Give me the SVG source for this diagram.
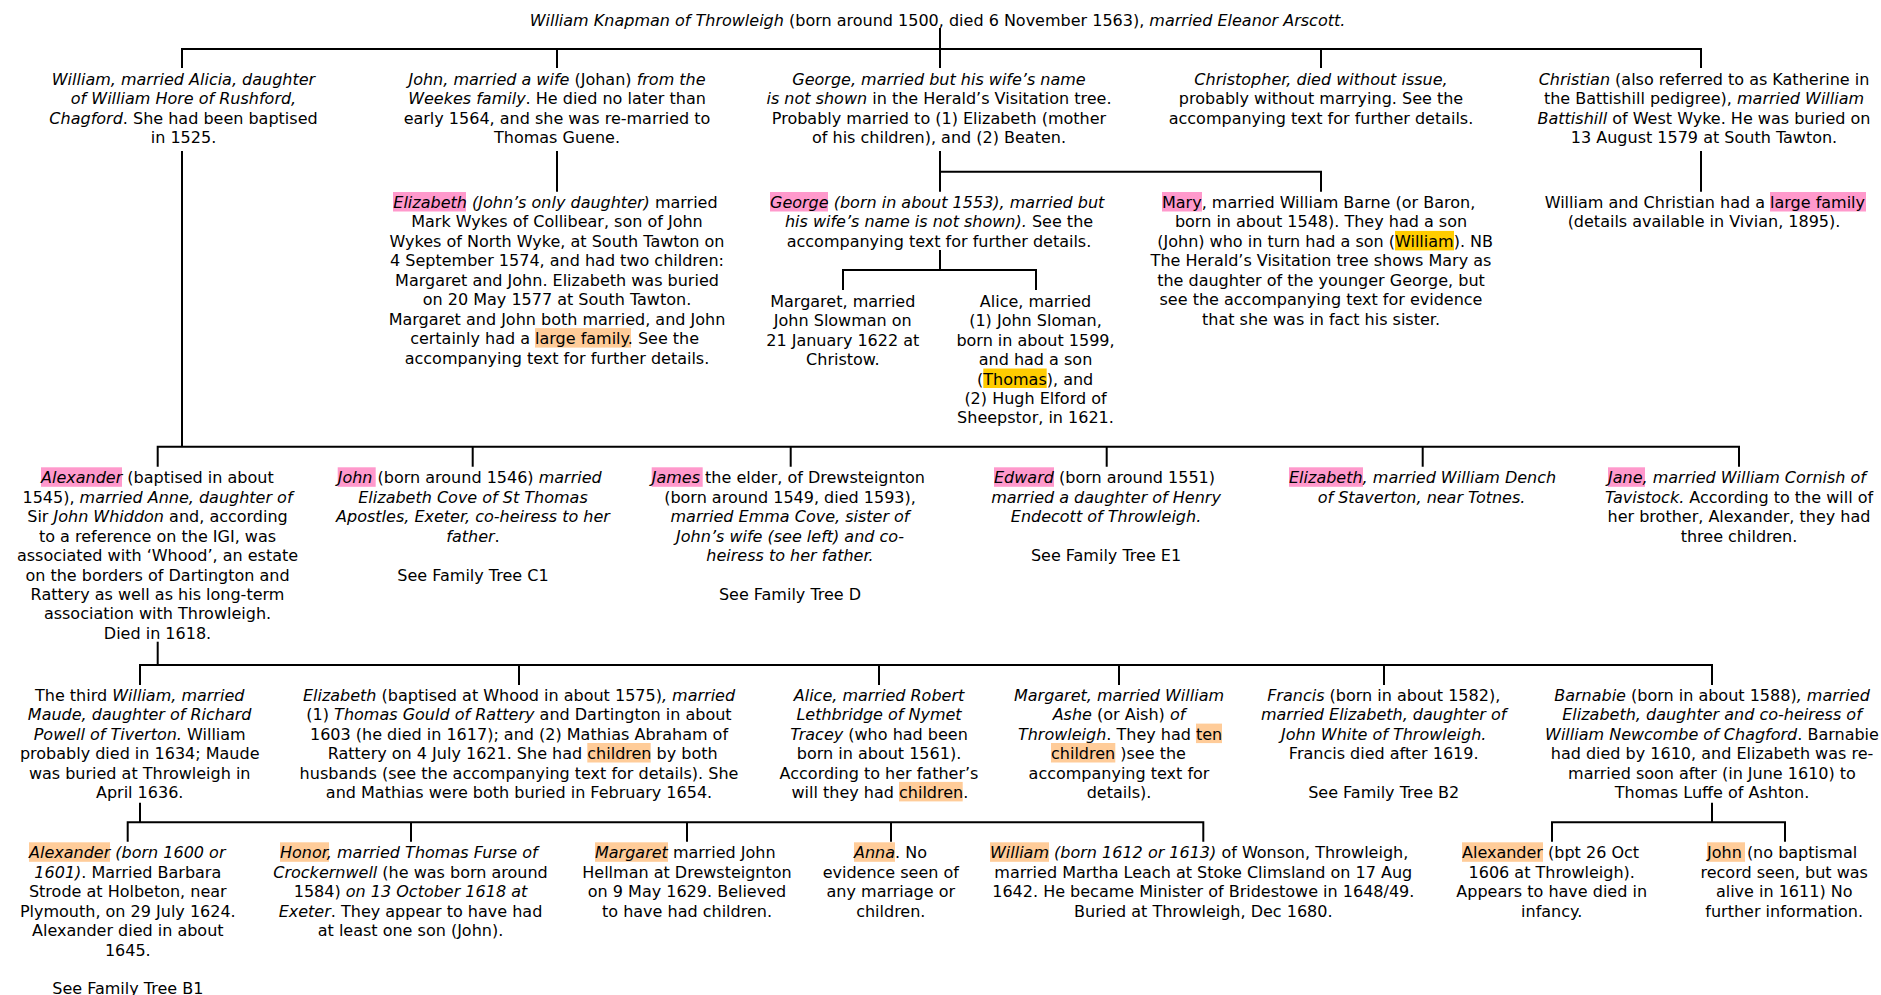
<svg xmlns="http://www.w3.org/2000/svg" width="1881" height="995" viewBox="0 0 1881 995">
<style>
text{font-family:"DejaVu Sans",Verdana,sans-serif;font-size:16px;fill:#000}
.m{text-anchor:middle}
.e{text-anchor:end}
.i{font-style:italic}
.pk{fill:#ff99cc}
.or{fill:#ffcc99}
.ye{fill:#ffcc00}
#connectors path{stroke:#000;stroke-width:2;fill:none}
</style>
<rect width="1881" height="995" fill="#fff"/>
<g id="connectors">
<path d="M940 28V49"/>
<path d="M182 68V49H1701V68"/>
<path d="M557 49V68M940 49V68M1321 49V68"/>
<path d="M182 151V446.7"/>
<path d="M557 151V191.7M1701 151V191.7M940 151V191.7M940 171.7H1321V191.7"/>
<path d="M940 250V270M843 290V270H1036V290"/>
<path d="M157.7 466.7V446.7H1739V466.7M472.7 446.7V466.7M790.7 446.7V466.7M1106.7 446.7V466.7M1422.7 446.7V466.7"/>
<path d="M157.7 641.7V665"/>
<path d="M140 685V665H1712V685M519 665V685M879 665V685M1119 665V685M1384 665V685"/>
<path d="M140 802.7V822.3M127.7 841.7V822.3H1203.3V841.7M411 822.3V841.7M687 822.3V841.7M891 822.3V841.7"/>
<path d="M1712 802.7V822.3M1552 841.7V822.3H1785V841.7"/>
</g>
<g id="n-root">
<text class="m" x="937.5" y="26"><tspan class="i">William Knapman of Throwleigh</tspan> (born around 1500, died 6 November 1563), <tspan class="i">married Eleanor Arscott.</tspan></text>
</g>
<g id="n-william1">
<text class="m" x="183.5" y="85"><tspan class="i">William, married Alicia, daughter</tspan></text>
<text class="m i" x="183.5" y="104.4">of William Hore of Rushford,</text>
<text class="m" x="183.5" y="123.9"><tspan class="i">Chagford</tspan>. She had been baptised</text>
<text class="m" x="183.5" y="143.3">in 1525.</text>
</g>
<g id="n-john1">
<text class="m" x="557" y="85"><tspan class="i">John, married a wife</tspan> (Johan) <tspan class="i">from the</tspan></text>
<text class="m" x="557" y="104.4"><tspan class="i">Weekes family</tspan>. He died no later than</text>
<text class="m" x="557" y="123.9">early 1564, and she was re-married to</text>
<text class="m" x="557" y="143.3">Thomas Guene.</text>
</g>
<g id="n-george1">
<text class="m i" x="939" y="85">George, married but his wife’s name</text>
<text class="m" x="939" y="104.4"><tspan class="i">is not shown</tspan> in the Herald’s Visitation tree.</text>
<text class="m" x="939" y="123.9">Probably married to (1) Elizabeth (mother</text>
<text class="m" x="939" y="143.3">of his children), and (2) Beaten.</text>
</g>
<g id="n-christopher">
<text class="m i" x="1321" y="85">Christopher, died without issue,</text>
<text class="m" x="1321" y="104.4">probably without marrying. See the</text>
<text class="m" x="1321" y="123.9">accompanying text for further details.</text>
</g>
<g id="n-christian">
<text class="m" x="1704" y="85"><tspan class="i">Christian</tspan> (also referred to as Katherine in</text>
<text class="m" x="1704" y="104.4">the Battishill pedigree), <tspan class="i">married William</tspan></text>
<text class="m" x="1704" y="123.9"><tspan class="i">Battishill</tspan> of West Wyke. He was buried on</text>
<text class="m" x="1704" y="143.3">13 August 1579 at South Tawton.</text>
</g>
<g id="n-elizabeth2">
<rect class="pk" x="393" y="192" width="73" height="19.5"/>
<text x="393.3" y="208"><tspan class="i">Elizabeth (John’s only daughter)</tspan> married</text>
<text class="m" x="557" y="227.4">Mark Wykes of Collibear, son of John</text>
<text class="m" x="557" y="246.9">Wykes of North Wyke, at South Tawton on</text>
<text class="m" x="557" y="266.3">4 September 1574, and had two children:</text>
<text class="m" x="557" y="285.8">Margaret and John. Elizabeth was buried</text>
<text class="m" x="557" y="305.2">on 20 May 1577 at South Tawton.</text>
<text class="m" x="557" y="324.6">Margaret and John both married, and John</text>
<rect class="or" x="535" y="328.1" width="96" height="19.5"/>
<text class="e" x="530" y="344.1">certainly had a</text>
<text x="535" y="344.1">large family. See the</text>
<text class="m" x="557" y="363.5">accompanying text for further details.</text>
</g>
<g id="n-george2">
<rect class="pk" x="770" y="192" width="58" height="19.5"/>
<text class="i" x="770" y="208">George (born in about 1553), married but</text>
<text class="m" x="939" y="227.4"><tspan class="i">his wife’s name is not shown).</tspan> See the</text>
<text class="m" x="939" y="246.9">accompanying text for further details.</text>
</g>
<g id="n-mary">
<rect class="pk" x="1162" y="192" width="40" height="19.5"/>
<text x="1162" y="208">Mary, married William Barne (or Baron,</text>
<text class="m" x="1321" y="227.4">born in about 1548). They had a son</text>
<text class="e" x="1395" y="246.9">(John) who in turn had a son (</text>
<rect class="ye" x="1395" y="230.9" width="59" height="19.5"/>
<text x="1395" y="246.9">William). NB</text>
<text class="m" x="1321" y="266.3">The Herald’s Visitation tree shows Mary as</text>
<text class="m" x="1321" y="285.8">the daughter of the younger George, but</text>
<text class="m" x="1321" y="305.2">see the accompanying text for evidence</text>
<text class="m" x="1321" y="324.6">that she was in fact his sister.</text>
</g>
<g id="n-battishill">
<rect class="pk" x="1770" y="192" width="96" height="19.5"/>
<text class="e" x="1765" y="208">William and Christian had a</text>
<text x="1770" y="208">large family</text>
<text class="m" x="1704" y="227.4">(details available in Vivian, 1895).</text>
</g>
<g id="n-margaret3">
<text class="m" x="842.8" y="306.7">Margaret, married</text>
<text class="m" x="842.8" y="326.1">John Slowman on</text>
<text class="m" x="842.8" y="345.6">21 January 1622 at</text>
<text class="m" x="842.8" y="365">Christow.</text>
</g>
<g id="n-alice3">
<text class="m" x="1035.5" y="306.7">Alice, married</text>
<text class="m" x="1035.5" y="326.1">(1) John Sloman,</text>
<text class="m" x="1035.5" y="345.6">born in about 1599,</text>
<text class="m" x="1035.5" y="365">and had a son</text>
<rect class="ye" x="983.3" y="368.5" width="63.4" height="19.5"/>
<text class="e" x="983.3" y="384.5">(</text>
<text x="983.3" y="384.5">Thomas), and</text>
<text class="m" x="1035.5" y="403.9">(2) Hugh Elford of</text>
<text class="m" x="1035.5" y="423.3">Sheepstor, in 1621.</text>
</g>
<g id="n-alexander2">
<rect class="pk" x="41" y="467.3" width="81" height="19.5"/>
<text x="41" y="483.3"><tspan class="i">Alexander</tspan> (baptised in about</text>
<text class="m" x="157.5" y="502.7">1545), <tspan class="i">married Anne, daughter of</tspan></text>
<text class="m" x="157.5" y="522.2">Sir <tspan class="i">John Whiddon</tspan> and, according</text>
<text class="m" x="157.5" y="541.6">to a reference on the IGI, was</text>
<text class="m" x="157.5" y="561.1">associated with ‘Whood’, an estate</text>
<text class="m" x="157.5" y="580.5">on the borders of Dartington and</text>
<text class="m" x="157.5" y="599.9">Rattery as well as his long-term</text>
<text class="m" x="157.5" y="619.4">association with Throwleigh.</text>
<text class="m" x="157.5" y="638.8">Died in 1618.</text>
</g>
<g id="n-john2">
<rect class="pk" x="337.7" y="467.3" width="38" height="19.5"/>
<text x="337.7" y="483.3"><tspan class="i">John</tspan> (born around 1546) <tspan class="i">married</tspan></text>
<text class="m i" x="473" y="502.7">Elizabeth Cove of St Thomas</text>
<text class="m i" x="473" y="522.2">Apostles, Exeter, co-heiress to her</text>
<text class="m" x="473" y="541.6"><tspan class="i">father</tspan>.</text>
<text class="m" x="473" y="580.5">See Family Tree C1</text>
</g>
<g id="n-james2">
<rect class="pk" x="651.7" y="467.3" width="51" height="19.5"/>
<text x="651.7" y="483.3"><tspan class="i">James</tspan> the elder, of Drewsteignton</text>
<text class="m" x="790" y="502.7">(born around 1549, died 1593),</text>
<text class="m i" x="790" y="522.2">married Emma Cove, sister of</text>
<text class="m i" x="790" y="541.6">John’s wife (see left) and co-</text>
<text class="m i" x="790" y="561.1">heiress to her father.</text>
<text class="m" x="790" y="599.9">See Family Tree D</text>
</g>
<g id="n-edward2">
<rect class="pk" x="994" y="467.3" width="60" height="19.5"/>
<text x="994" y="483.3"><tspan class="i">Edward</tspan> (born around 1551)</text>
<text class="m i" x="1106" y="502.7">married a daughter of Henry</text>
<text class="m i" x="1106" y="522.2">Endecott of Throwleigh.</text>
<text class="m" x="1106" y="561.1">See Family Tree E1</text>
</g>
<g id="n-elizabeth2b">
<rect class="pk" x="1289" y="467.3" width="74" height="19.5"/>
<text class="i" x="1289" y="483.3">Elizabeth, married William Dench</text>
<text class="m i" x="1421.5" y="502.7">of Staverton, near Totnes.</text>
</g>
<g id="n-jane2">
<rect class="pk" x="1608" y="467.3" width="37" height="19.5"/>
<text class="i" x="1608" y="483.3">Jane, married William Cornish of</text>
<text class="m" x="1739" y="502.7"><tspan class="i">Tavistock.</tspan> According to the will of</text>
<text class="m" x="1739" y="522.2">her brother, Alexander, they had</text>
<text class="m" x="1739" y="541.6">three children.</text>
</g>
<g id="n-william3">
<text class="m" x="139.7" y="700.7">The third <tspan class="i">William, married</tspan></text>
<text class="m i" x="139.7" y="720.1">Maude, daughter of Richard</text>
<text class="m" x="139.7" y="739.6"><tspan class="i">Powell of Tiverton.</tspan> William</text>
<text class="m" x="139.7" y="759">probably died in 1634; Maude</text>
<text class="m" x="139.7" y="778.5">was buried at Throwleigh in</text>
<text class="m" x="139.7" y="797.9">April 1636.</text>
</g>
<g id="n-elizabeth3">
<text class="m" x="519" y="700.7"><tspan class="i">Elizabeth</tspan> (baptised at Whood in about 1575)<tspan class="i">, married</tspan></text>
<text class="m" x="519" y="720.1">(1) <tspan class="i">Thomas Gould of Rattery</tspan> and Dartington in about</text>
<text class="m" x="519" y="739.6">1603 (he died in 1617); and (2) Mathias Abraham of</text>
<rect class="or" x="587.3" y="743" width="63.4" height="19.5"/>
<text class="e" x="582.2" y="759">Rattery on 4 July 1621. She had</text>
<text x="587.3" y="759">children by both</text>
<text class="m" x="519" y="778.5">husbands (see the accompanying text for details). She</text>
<text class="m" x="519" y="797.9">and Mathias were both buried in February 1654.</text>
</g>
<g id="n-alice4">
<text class="m i" x="879" y="700.7">Alice, married Robert</text>
<text class="m i" x="879" y="720.1">Lethbridge of Nymet</text>
<text class="m" x="879" y="739.6"><tspan class="i">Tracey</tspan> (who had been</text>
<text class="m" x="879" y="759">born in about 1561).</text>
<text class="m" x="879" y="778.5">According to her father’s</text>
<rect class="or" x="899" y="781.9" width="63.7" height="19.5"/>
<text class="e" x="893.9" y="797.9">will they had</text>
<text x="899" y="797.9">children.</text>
</g>
<g id="n-margaret4">
<text class="m i" x="1119" y="700.7">Margaret, married William</text>
<text class="m" x="1119" y="720.1"><tspan class="i">Ashe</tspan> (or Aish) <tspan class="i">of</tspan></text>
<rect class="or" x="1196" y="723.6" width="26" height="19.5"/>
<text class="e" x="1190.9" y="739.6"><tspan class="i">Throwleigh</tspan>. They had</text>
<text x="1196" y="739.6">ten</text>
<rect class="or" x="1051" y="743" width="64.3" height="19.5"/>
<text x="1051" y="759">children )see the</text>
<text class="m" x="1119" y="778.5">accompanying text for</text>
<text class="m" x="1119" y="797.9">details).</text>
</g>
<g id="n-francis">
<text class="m" x="1383.7" y="700.7"><tspan class="i">Francis</tspan> (born in about 1582),</text>
<text class="m i" x="1383.7" y="720.1">married Elizabeth, daughter of</text>
<text class="m i" x="1383.7" y="739.6">John White of Throwleigh.</text>
<text class="m" x="1383.7" y="759">Francis died after 1619.</text>
<text class="m" x="1383.7" y="797.9">See Family Tree B2</text>
</g>
<g id="n-barnabie">
<text class="m" x="1712" y="700.7"><tspan class="i">Barnabie</tspan> (born in about 1588)<tspan class="i">, married</tspan></text>
<text class="m i" x="1712" y="720.1">Elizabeth, daughter and co-heiress of</text>
<text class="m" x="1712" y="739.6"><tspan class="i">William Newcombe of Chagford</tspan>. Barnabie</text>
<text class="m" x="1712" y="759">had died by 1610, and Elizabeth was re-</text>
<text class="m" x="1712" y="778.5">married soon after (in June 1610) to</text>
<text class="m" x="1712" y="797.9">Thomas Luffe of Ashton.</text>
</g>
<g id="n-alexander4">
<rect class="or" x="29" y="842.3" width="81" height="19.5"/>
<text class="i" x="29" y="858.3">Alexander (born 1600 or</text>
<text class="m" x="127.8" y="877.7"><tspan class="i">1601)</tspan>. Married Barbara</text>
<text class="m" x="127.8" y="897.2">Strode at Holbeton, near</text>
<text class="m" x="127.8" y="916.6">Plymouth, on 29 July 1624.</text>
<text class="m" x="127.8" y="936.1">Alexander died in about</text>
<text class="m" x="127.8" y="955.5">1645.</text>
<text class="m" x="127.8" y="994.4">See Family Tree B1</text>
</g>
<g id="n-honor">
<rect class="or" x="280" y="842.3" width="49" height="19.5"/>
<text class="i" x="280" y="858.3">Honor, married Thomas Furse of</text>
<text class="m" x="410.5" y="877.7"><tspan class="i">Crockernwell</tspan> (he was born around</text>
<text class="m" x="410.5" y="897.2">1584) <tspan class="i">on 13 October 1618 at</tspan></text>
<text class="m" x="410.5" y="916.6"><tspan class="i">Exeter</tspan>. They appear to have had</text>
<text class="m" x="410.5" y="936.1">at least one son (John).</text>
</g>
<g id="n-margaret5">
<rect class="or" x="595" y="842.3" width="73" height="19.5"/>
<text x="595" y="858.3"><tspan class="i">Margaret</tspan> married John</text>
<text class="m" x="687" y="877.7">Hellman at Drewsteignton</text>
<text class="m" x="687" y="897.2">on 9 May 1629. Believed</text>
<text class="m" x="687" y="916.6">to have had children.</text>
</g>
<g id="n-anna">
<rect class="or" x="854" y="842.3" width="41" height="19.5"/>
<text x="854" y="858.3"><tspan class="i">Anna</tspan>. No</text>
<text class="m" x="890.8" y="877.7">evidence seen of</text>
<text class="m" x="890.8" y="897.2">any marriage or</text>
<text class="m" x="890.8" y="916.6">children.</text>
</g>
<g id="n-william5">
<rect class="or" x="990" y="842.3" width="59" height="19.5"/>
<text x="990" y="858.3"><tspan class="i">William (born 1612 or 1613)</tspan> of Wonson, Throwleigh,</text>
<text class="m" x="1203.3" y="877.7">married Martha Leach at Stoke Climsland on 17 Aug</text>
<text class="m" x="1203.3" y="897.2">1642. He became Minister of Bridestowe in 1648/49.</text>
<text class="m" x="1203.3" y="916.6">Buried at Throwleigh, Dec 1680.</text>
</g>
<g id="n-alexander5">
<rect class="or" x="1462" y="842.3" width="81" height="19.5"/>
<text x="1462" y="858.3">Alexander (bpt 26 Oct</text>
<text class="m" x="1551.7" y="877.7">1606 at Throwleigh).</text>
<text class="m" x="1551.7" y="897.2">Appears to have died in</text>
<text class="m" x="1551.7" y="916.6">infancy.</text>
</g>
<g id="n-john5">
<rect class="or" x="1707" y="842.3" width="38" height="19.5"/>
<text x="1707" y="858.3">John (no baptismal</text>
<text class="m" x="1784.2" y="877.7">record seen, but was</text>
<text class="m" x="1784.2" y="897.2">alive in 1611) No</text>
<text class="m" x="1784.2" y="916.6">further information.</text>
</g>
</svg>
